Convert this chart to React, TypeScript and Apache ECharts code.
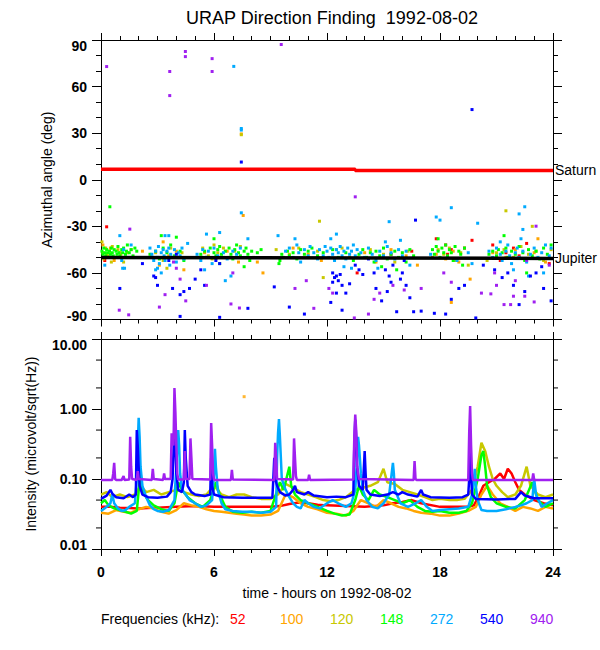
import React, { useEffect, useRef } from "react";
import * as echarts from "echarts";

const FREQS = ["52", "100", "120", "148", "272", "540", "940"];
const COLORS = ["#ff0000", "#ffa500", "#c8c800", "#00ff00", "#00aaff", "#0000ff", "#a020f0"];
const TITLE = "URAP Direction Finding  1992-08-02";
const X_NAME = "time - hours on 1992-08-02";
const Y_NAME_TOP = "Azimuthal angle (deg)";
const Y_NAME_BOTTOM = "Intensity (microvolt/sqrt(Hz))";
const LEGEND_LABEL = "Frequencies (kHz):";

const SATURN = [[0, 6.7], [13.5, 6.7], [13.5, 6.0], [24, 6.0]];
const JUPITER = [[0, -50], [24, -50.7]];
const LOG_MINOR = [0.02, 0.05, 0.2, 0.5, 2, 5];

// Azimuth (deg) vs time (h), one array per frequency
const AZ_52 = [[0.3,-30.3],[0.2,-52],[13.6,-60],[15.4,-48],[16.5,-46],[17.8,-38],[18.3,-42],[18.6,-45],[18.4,-48],[19.3,-44],[19.7,-39],[20.8,-42],[21.5,-47],[21.9,-44],[22.2,-49],[22.6,-41],[23.8,-54],[21.2,-52]];
const AZ_100 = [[0.1,-42],[0.3,-48],[0.5,-44],[0.7,-52],[1.0,-47],[1.3,-50],[1.6,-45],[2.2,-46],[3.1,-55],[3.6,-49],[4.0,-46],[4.4,-58],[3.3,-40],[5.5,-47],[6.1,-51],[6.7,-46],[7.3,-53],[7.45,29.5],[7.55,-23],[8.3,-53],[8.6,-60],[10.2,-44],[11.0,-48],[11.7,-52],[12.5,-45],[13.2,-50],[14.0,-47],[14.6,-53],[15.4,-45],[16.2,-49],[16.8,-55],[17.8,-48],[18.3,-51],[18.7,-46],[19.0,-53],[19.6,-64],[18.6,-79],[20.8,-47],[21.5,-50],[22.0,-45],[22.5,-51],[23.0,-47],[23.6,-53],[23.2,-38]];
const AZ_120 = [[0.05,-40],[0.1,-47],[0.15,-51],[0.25,-44],[0.35,-49],[0.45,-46],[0.6,-43],[0.75,-50],[0.9,-45],[1.05,-48],[1.2,-53],[1.4,-47],[1.7,-50],[0.55,-53],[2.9,-47],[3.3,-52],[3.7,-44],[4.1,-50],[4.3,-47],[3.5,-57],[5.4,-44],[5.7,-49],[6.0,-42],[6.2,-47],[6.5,-44],[6.8,-50],[7.1,-46],[7.4,-43],[7.45,29],[5.9,-51],[9.3,-45],[10.0,-48],[10.5,-44],[11.0,-50],[11.5,-46],[11.6,-26.7],[11.8,-63],[12.8,-44],[13.6,-50],[14.3,-45],[15.0,-48],[15.6,-53],[16.3,-46],[17.6,-50],[17.9,-45],[18.2,-48],[18.5,-44],[18.8,-52],[19.1,-47],[19.5,-55],[20.5,-52],[21.0,-47],[21.4,-45],[21.5,-20],[21.9,-50],[22.3,-43],[22.7,-48],[23.1,-46],[23.5,-52],[23.9,-45],[22.9,-30]];
const AZ_148 = [[0.05,-46],[0.1,-48],[0.15,-44],[0.2,-47],[0.25,-49],[0.3,-45],[0.35,-47],[0.4,-50],[0.45,-46],[0.5,-48],[0.55,-44],[0.6,-47],[0.65,-49],[0.7,-45],[0.8,-46],[0.85,-48],[0.9,-43],[0.95,-47],[1.0,-49],[1.1,-45],[1.15,-47],[1.2,-44],[1.3,-48],[1.35,-46],[1.4,-42],[1.5,-47],[1.6,-45],[1.7,-49],[1.8,-44],[1.9,-46],[0.47,-17.4],[2.6,-48],[2.9,-46],[3.1,-51],[3.3,-44],[3.5,-47],[3.7,-42],[3.9,-49],[4.2,-46],[4.4,-52],[3.2,-36],[4.0,-37],[5.3,-48],[5.5,-46],[5.6,-50],[5.8,-44],[6.0,-47],[6.1,-49],[6.2,-45],[6.3,-43],[6.4,-48],[6.5,-50],[6.6,-46],[6.8,-44],[6.9,-48],[7.0,-51],[7.1,-45],[7.2,-42],[7.3,-47],[7.4,-49],[7.6,-46],[7.7,-44],[7.8,-48],[7.9,-52],[8.0,-46],[8.1,-50],[8.3,-47],[8.5,-45],[6.3,-54],[7.6,-56],[6.0,-38],[9.5,-52],[9.6,-48],[9.7,-50],[9.9,-46],[10.0,-49],[10.2,-47],[10.4,-51],[10.6,-45],[10.8,-48],[11.0,-46],[11.2,-44],[11.5,-49],[11.8,-47],[9.45,-54],[12.3,-45],[12.6,-50],[13.0,-47],[13.4,-52],[13.7,-48],[13.9,-45],[14.1,-50],[14.3,-47],[14.5,-53],[14.6,-46],[14.8,-49],[15.0,-44],[15.2,-51],[15.4,-48],[15.6,-46],[15.8,-50],[16.0,-47],[16.2,-53],[16.4,-45],[16.6,-49],[14.9,-56],[15.7,-58],[17.6,-45],[17.7,-48],[17.8,-43],[17.9,-46],[18.0,-50],[18.1,-44],[18.2,-47],[18.3,-42],[18.4,-49],[18.5,-45],[18.6,-47],[18.8,-43],[18.9,-51],[19.0,-46],[19.1,-48],[19.3,-44],[17.9,-38],[18.7,-52],[19.2,-55],[20.6,-48],[20.8,-46],[21.0,-49],[21.1,-45],[21.3,-47],[21.5,-44],[21.6,-50],[21.8,-46],[22.0,-48],[22.2,-43],[22.4,-47],[22.5,-52],[22.7,-45],[22.9,-49],[23.1,-46],[23.3,-51],[23.5,-44],[23.7,-48],[23.9,-42],[21.4,-36],[22.6,-60]];
const AZ_272 = [[0.2,-55],[1.1,-52],[1.2,-45],[1.3,-50],[1.15,-57],[1.25,-57],[1.0,-36],[1.6,-42],[2.6,-44],[2.7,-48],[2.8,-52],[2.9,-46],[3.0,-50],[3.05,-43],[3.1,-54],[3.2,-47],[3.3,-45],[3.35,-49],[3.4,-52],[3.5,-46],[3.6,-44],[3.65,-55],[3.7,-48],[3.8,-50],[3.9,-45],[4.0,-53],[4.1,-47],[4.2,-49],[4.3,-44],[4.4,-51],[3.0,-57],[3.2,-60],[3.6,-36],[3.4,-36],[2.9,-58],[4.6,-41],[5.1,-48],[5.3,-52],[5.4,-45],[5.6,-50],[5.7,-46],[5.9,-54],[6.0,-44],[6.2,-49],[6.3,-34],[6.5,-47],[6.7,-51],[7.0,-46],[7.2,-48],[7.4,-44],[7.6,-50],[7.8,-38],[5.5,-58],[6.9,-62],[7.05,73],[7.45,33],[7.45,32],[7.45,-21.3],[5.6,-35],[6.6,-65],[9.4,-36],[9.8,-46],[10.0,-44],[10.2,-50],[10.4,-42],[10.5,-47],[10.6,-53],[10.8,-45],[11.0,-49],[11.1,-43],[11.3,-47],[11.5,-51],[11.6,-45],[11.8,-49],[11.9,-43],[10.3,-38],[12.0,-46],[12.1,-50],[12.2,-44],[12.3,-48],[12.4,-52],[12.5,-45],[12.6,-47],[12.7,-43],[12.8,-49],[12.9,-46],[13.0,-51],[13.1,-44],[13.2,-48],[13.3,-46],[13.4,-42],[13.5,-49],[13.6,-45],[13.8,-47],[14.0,-50],[14.2,-44],[14.4,-48],[14.6,-52],[14.8,-46],[15.0,-49],[15.2,-43],[15.4,-47],[15.6,-51],[15.8,-45],[16.0,-49],[16.2,-46],[12.2,-38],[12.5,-35],[12.9,-56],[13.3,-57],[14.7,-57],[15.3,-27],[15.1,-40],[15.9,-39],[16.4,-55],[17.8,-24],[18.0,-26],[18.6,-18],[17.5,-48],[18.9,-52],[19.5,-47],[19.7,-54],[20.0,-28],[20.6,-46],[20.8,-50],[21.0,-44],[21.2,-48],[21.3,-52],[21.5,-46],[21.6,-42],[21.7,-49],[21.8,-54],[22.0,-47],[22.1,-44],[22.2,-50],[22.3,-38],[22.4,-46],[22.5,-17.4],[22.2,-22],[22.6,-53],[22.8,-48],[23.0,-44],[23.2,-50],[23.4,-47],[23.6,-42],[23.8,-49],[23.9,-44],[22.4,-32],[21.9,-58],[22.7,-62],[23.5,-60],[21.2,-40]];
const AZ_540 = [[1.0,-70],[2.2,-54],[2.8,-62],[2.9,-63],[3.0,-68],[3.6,-52],[3.8,-70],[4.2,-74],[4.4,-72],[4.7,-70],[5.0,-64],[5.3,-58],[5.5,-68],[6.1,-52],[6.3,-54],[4.0,-48],[4.2,-88],[6.3,-88.6],[7.8,-82.8],[7.45,11.4],[9.2,-69],[10.0,-82],[10.8,-86.5],[12.3,-60],[12.4,-63],[12.5,-62],[12.6,-65],[12.7,-61],[12.8,-68],[12.3,-66],[12.5,-73],[12.2,-79],[13.0,-73],[12.8,-84],[13.2,-67],[13.5,-55],[13.7,-58],[14.2,-51],[14.5,-60],[14.6,-70],[14.9,-78],[15.2,-72],[15.1,-58],[15.3,-62],[15.5,-55],[15.4,-66],[15.7,-85],[15.9,-64],[16.0,-60],[16.2,-68],[16.1,-52],[16.4,-76],[16.6,-85],[16.7,-26],[17.0,-84.6],[17.7,-86],[18.3,-86.5],[18.6,-77],[19.0,-70],[19.7,45.2],[19.9,-89],[19.3,-68],[20.3,-55],[20.9,-58],[21.3,-63],[21.6,-60],[21.9,-68],[22.2,-80.4],[22.5,-72],[22.8,-62],[23.1,-60],[23.5,-70],[23.9,-78],[23.4,-56],[13.9,-61]];
const AZ_940 = [[0.3,72.9],[3.65,69.7],[3.65,54.2],[4.48,82.6],[4.48,79.3],[5.9,78],[5.9,69.7],[9.57,87.1],[13.5,-11],[1.53,-31.8],[0.97,-84],[1.47,-87],[3.1,-82],[3.9,-50],[3.85,-53],[4.1,-50],[4.0,-57],[4.2,-64],[3.4,-74],[6.9,-80],[7.35,-82.6],[7.0,-60],[5.6,-68],[4.5,-78],[11.3,-82.8],[10.3,-70],[10.9,-65],[12.1,-70],[12.3,-73],[13.45,-89],[14.2,-86.5],[14.5,-77],[14.8,-73],[15.5,-68],[16.1,-71],[17.0,-70],[18.2,-60],[18.6,-66],[20.2,-73],[20.7,-73.5],[21.4,-80.4],[21.75,-80.4],[22.5,-75],[23.0,-78.7],[22.0,-65],[21.0,-68],[23.1,-29.9],[22.6,-52],[23.8,-55],[21.9,-75],[20.9,-60]];

// Intensity (microvolt/sqrt(Hz)) vs time (h)
const INT_52 = [[0,0.04],[0.5,0.04],[1.0,0.039],[2.0,0.038],[3.0,0.039],[4.0,0.04],[5.0,0.041],[6.0,0.04],[7.0,0.04],[8.0,0.04],[9.0,0.04],[9.5,0.041],[10.0,0.044],[10.5,0.046],[11.0,0.045],[11.5,0.043],[12.0,0.042],[13.0,0.041],[14.0,0.04],[15.0,0.042],[15.5,0.045],[16.0,0.047],[16.5,0.05],[17.0,0.045],[18.0,0.04],[19.0,0.04],[19.5,0.04],[19.8,0.042],[20.1,0.06],[20.3,0.08],[20.6,0.09],[20.9,0.1],[21.2,0.12],[21.4,0.1],[21.6,0.14],[21.8,0.12],[22.0,0.09],[22.2,0.07],[22.5,0.06],[23.0,0.05],[23.5,0.045],[24,0.042]];
const INT_100 = [[0,0.033],[0.4,0.032],[0.8,0.036],[1.2,0.034],[1.6,0.033],[2.0,0.037],[2.4,0.04],[2.8,0.038],[3.2,0.034],[3.6,0.032],[4.0,0.036],[4.4,0.045],[4.8,0.042],[5.2,0.04],[5.6,0.037],[6.0,0.035],[6.4,0.034],[6.8,0.033],[7.2,0.032],[7.6,0.031],[8.0,0.03],[8.5,0.03],[9.0,0.031],[9.4,0.035],[9.8,0.06],[10.2,0.055],[10.6,0.045],[11.0,0.04],[11.5,0.037],[12.0,0.033],[12.5,0.032],[13.0,0.03],[13.4,0.035],[13.8,0.05],[14.2,0.045],[14.6,0.04],[15.0,0.05],[15.4,0.045],[15.8,0.04],[16.2,0.038],[16.6,0.035],[17.0,0.033],[17.5,0.032],[18.0,0.03],[18.5,0.03],[19.0,0.032],[19.5,0.035],[19.9,0.04],[20.2,0.06],[20.5,0.08],[20.8,0.06],[21.2,0.045],[21.6,0.04],[22.0,0.035],[22.4,0.04],[22.8,0.038],[23.2,0.035],[23.6,0.04],[24,0.038]];
const INT_100_ISOLATED = [[7.6, 1.5]];
const INT_120 = [[0,0.06],[0.3,0.065],[0.6,0.055],[1.0,0.06],[1.4,0.055],[1.8,0.06],[2.1,0.08],[2.4,0.065],[2.8,0.07],[3.2,0.06],[3.6,0.065],[4.0,0.07],[4.4,0.065],[4.8,0.06],[5.2,0.057],[5.6,0.06],[6.0,0.08],[6.4,0.06],[6.8,0.055],[7.2,0.06],[7.6,0.06],[8.0,0.055],[8.5,0.052],[9.0,0.052],[9.4,0.06],[9.8,0.085],[10.2,0.075],[10.6,0.065],[11.0,0.06],[11.4,0.055],[11.8,0.05],[12.2,0.048],[12.6,0.05],[13.0,0.055],[13.5,0.07],[13.9,0.075],[14.3,0.08],[14.7,0.09],[15.0,0.14],[15.2,0.09],[15.6,0.085],[16.0,0.07],[16.4,0.065],[16.8,0.06],[17.2,0.055],[17.6,0.05],[18.0,0.052],[18.5,0.05],[18.9,0.05],[19.3,0.052],[19.7,0.07],[20.0,0.15],[20.2,0.33],[20.4,0.25],[20.6,0.15],[20.8,0.1],[21.0,0.08],[21.3,0.065],[21.6,0.055],[22.0,0.06],[22.3,0.08],[22.6,0.15],[22.8,0.08],[23.2,0.06],[23.6,0.055],[24,0.06]];
const INT_148 = [[0,0.045],[0.2,0.05],[0.4,0.042],[0.7,0.038],[1.0,0.036],[1.3,0.034],[1.6,0.032],[1.9,0.035],[2.1,0.13],[2.15,0.08],[2.3,0.06],[2.5,0.05],[2.8,0.042],[3.2,0.037],[3.6,0.035],[3.9,0.045],[4.1,0.09],[4.3,0.07],[4.6,0.055],[5.0,0.045],[5.4,0.04],[5.8,0.05],[6.1,0.09],[6.3,0.06],[6.6,0.04],[7.0,0.034],[7.5,0.033],[8.0,0.034],[8.5,0.033],[9.0,0.035],[9.5,0.09],[9.7,0.07],[10.0,0.15],[10.1,0.08],[10.3,0.06],[10.6,0.05],[11.0,0.045],[11.5,0.04],[12.0,0.035],[12.4,0.032],[12.8,0.03],[13.2,0.031],[13.5,0.05],[13.7,0.08],[13.9,0.06],[14.2,0.05],[14.5,0.07],[14.8,0.06],[15.2,0.055],[15.6,0.05],[16.0,0.045],[16.4,0.05],[16.8,0.04],[17.2,0.035],[17.6,0.034],[18.0,0.035],[18.5,0.033],[19.0,0.033],[19.4,0.035],[19.7,0.045],[20.0,0.1],[20.2,0.22],[20.3,0.25],[20.4,0.15],[20.5,0.08],[20.7,0.055],[21.0,0.045],[21.5,0.04],[22.0,0.038],[22.5,0.05],[22.9,0.09],[23.2,0.05],[23.6,0.04],[24,0.045]];
const INT_272 = [[0,0.035],[0.3,0.04],[0.5,0.045],[0.6,0.06],[0.7,0.045],[0.9,0.038],[1.1,0.035],[1.3,0.036],[1.5,0.04],[1.8,0.045],[1.9,0.1],[1.95,0.3],[2.0,0.75],[2.05,0.4],[2.1,0.15],[2.2,0.08],[2.4,0.055],[2.6,0.042],[2.8,0.037],[3.0,0.035],[3.3,0.034],[3.6,0.036],[3.9,0.05],[4.0,0.15],[4.05,0.3],[4.1,0.5],[4.15,0.3],[4.2,0.12],[4.3,0.07],[4.5,0.06],[4.7,0.05],[5.0,0.045],[5.3,0.04],[5.6,0.042],[5.9,0.05],[6.0,0.12],[6.05,0.27],[6.1,0.15],[6.2,0.07],[6.4,0.045],[6.6,0.037],[7.0,0.035],[7.5,0.034],[8.0,0.034],[8.5,0.033],[9.0,0.034],[9.3,0.04],[9.35,0.2],[9.4,0.45],[9.45,0.72],[9.5,0.4],[9.55,0.2],[9.6,0.1],[9.8,0.07],[10.0,0.055],[10.2,0.045],[10.4,0.04],[10.6,0.038],[10.8,0.05],[11.0,0.045],[11.3,0.04],[11.6,0.038],[12.0,0.045],[12.3,0.05],[12.6,0.045],[13.0,0.04],[13.3,0.045],[13.5,0.07],[13.6,0.2],[13.65,0.4],[13.7,0.3],[13.8,0.12],[13.9,0.07],[14.1,0.05],[14.4,0.04],[14.7,0.038],[15.0,0.045],[15.3,0.06],[15.4,0.1],[15.5,0.17],[15.55,0.12],[15.6,0.07],[15.9,0.045],[16.3,0.04],[16.7,0.045],[17.0,0.05],[17.3,0.04],[17.6,0.035],[18.0,0.036],[18.5,0.037],[19.0,0.038],[19.5,0.04],[19.7,0.06],[19.8,0.1],[19.85,0.14],[19.9,0.08],[20.0,0.05],[20.2,0.036],[20.5,0.035],[21.0,0.035],[21.5,0.037],[22.0,0.04],[22.3,0.042],[22.6,0.045],[22.9,0.05],[23.0,0.1],[23.1,0.06],[23.4,0.04],[23.7,0.045],[24,0.05]];
const INT_540 = [[0,0.052],[0.3,0.058],[0.5,0.07],[0.6,0.062],[0.8,0.055],[1.2,0.053],[1.5,0.06],[1.7,0.055],[1.85,0.06],[1.9,0.5],[1.95,0.3],[2.0,0.15],[2.05,0.08],[2.2,0.06],[2.5,0.055],[3.0,0.054],[3.5,0.056],[3.7,0.065],[3.8,0.1],[3.85,0.25],[3.9,0.6],[3.95,0.35],[4.0,0.12],[4.1,0.07],[4.3,0.065],[4.4,0.09],[4.45,0.5],[4.5,0.2],[4.6,0.08],[4.8,0.065],[5.0,0.06],[5.5,0.057],[5.8,0.06],[5.85,0.2],[5.9,0.08],[6.0,0.06],[6.5,0.055],[7.5,0.054],[9.1,0.054],[9.15,0.1],[9.2,0.2],[9.25,0.1],[9.35,0.08],[9.5,0.065],[9.8,0.058],[10.0,0.06],[10.2,0.07],[10.3,0.08],[10.4,0.065],[10.8,0.06],[11.0,0.065],[11.3,0.058],[12.0,0.055],[12.5,0.056],[13.0,0.055],[13.4,0.06],[13.45,0.3],[13.5,0.7],[13.55,0.4],[13.6,0.15],[13.7,0.08],[13.9,0.07],[14.0,0.25],[14.05,0.12],[14.1,0.07],[14.3,0.06],[14.8,0.057],[15.2,0.06],[15.5,0.065],[15.8,0.06],[16.0,0.065],[16.3,0.06],[16.8,0.056],[17.0,0.07],[17.1,0.06],[17.5,0.055],[18.5,0.054],[19.2,0.055],[19.5,0.06],[19.55,0.1],[19.6,0.25],[19.65,0.12],[19.7,0.06],[19.9,0.052],[21.0,0.051],[22.0,0.052],[22.3,0.065],[22.5,0.058],[23.0,0.053],[24,0.053]];
const INT_940 = [[0,0.097],[0.6,0.097],[0.65,0.12],[0.7,0.17],[0.75,0.1],[0.8,0.097],[1.1,0.097],[1.2,0.11],[1.25,0.097],[1.5,0.098],[1.55,0.4],[1.6,0.15],[1.65,0.1],[1.9,0.097],[1.95,0.13],[2.0,0.1],[2.7,0.097],[2.75,0.14],[2.8,0.1],[3.3,0.097],[3.35,0.12],[3.4,0.1],[3.7,0.1],[3.75,0.45],[3.85,0.3],[3.9,2.0],[3.95,0.9],[4.0,0.3],[4.05,0.12],[4.1,0.098],[4.4,0.098],[4.45,0.25],[4.5,0.1],[4.7,0.1],[4.75,0.38],[4.8,0.2],[4.85,0.1],[5.8,0.098],[5.85,0.63],[5.9,0.3],[5.95,0.12],[6.0,0.097],[6.9,0.097],[6.95,0.135],[7.0,0.098],[9.2,0.097],[9.25,0.33],[9.3,0.2],[9.35,0.1],[10.2,0.098],[10.25,0.38],[10.3,0.2],[10.35,0.11],[10.4,0.097],[11.0,0.097],[11.05,0.115],[11.1,0.097],[13.4,0.098],[13.45,0.4],[13.5,0.83],[13.55,0.5],[13.6,0.15],[13.7,0.1],[16.6,0.097],[16.65,0.18],[16.7,0.1],[16.75,0.097],[19.5,0.097],[19.55,0.45],[19.6,1.1],[19.65,0.3],[19.7,0.12],[19.75,0.097],[22.9,0.097],[22.95,0.12],[23.0,0.097],[24,0.097]];

const AZ_DATA = [AZ_52, AZ_100, AZ_120, AZ_148, AZ_272, AZ_540, AZ_940];
const INT_DATA = [INT_52, INT_100, INT_120, INT_148, INT_272, INT_540, INT_940];

const FONT = "'Liberation Sans', Arial, Helvetica, sans-serif";

function xAxisDef(gridIndex: number, position: string, showLabel: boolean, name?: string) {
  return {
    type: "value",
    gridIndex,
    position,
    min: 0,
    max: 24,
    interval: 6,
    name: name || "",
    nameLocation: "middle",
    nameGap: 37,
    nameTextStyle: { color: "#000", fontSize: 14, fontFamily: FONT },
    axisLine: { show: true, onZero: false, lineStyle: { color: "#000", width: 1 } },
    axisTick: { show: true, inside: false, length: 7, lineStyle: { color: "#000", width: 1 } },
    minorTick: { show: true, splitNumber: 6, length: 4, lineStyle: { color: "#000", width: 1 } },
    splitLine: { show: false },
    minorSplitLine: { show: false },
    axisLabel: { show: showLabel, color: "#000", fontSize: 14, fontWeight: "bold", fontFamily: FONT, margin: 16 },
  };
}

export default function App() {
  const ref = useRef<HTMLDivElement>(null);

  useEffect(() => {
    if (!ref.current) return;
    const chart = echarts.init(ref.current, null, { renderer: "svg" });

    const topScatter = AZ_DATA.map((d, i) => ({
      type: "scatter",
      name: FREQS[i],
      xAxisIndex: 0,
      yAxisIndex: 0,
      data: d,
      symbol: "rect",
      symbolSize: [3, 3],
      itemStyle: { color: COLORS[i], opacity: 1 },
      z: 2,
    }));

    const bottomLines = INT_DATA.map((d, i) => ({
      type: "line",
      name: FREQS[i] + "-int",
      xAxisIndex: 2,
      yAxisIndex: 2,
      data: d,
      symbol: "none",
      showSymbol: false,
      lineStyle: { color: COLORS[i], width: 2.5 },
      z: 2 + i * 0.01,
    }));

    const richTop = { padding: [12, 0, 0, 0], fontSize: 14, fontWeight: "bold", color: "#000", fontFamily: FONT };
    const richBottom = { padding: [0, 0, 8, 0], fontSize: 14, fontWeight: "bold", color: "#000", fontFamily: FONT };

    const option: any = {
      animation: false,
      backgroundColor: "#fff",
      textStyle: { fontFamily: FONT },
      title: {
        text: TITLE,
        left: 327,
        top: 4,
        textAlign: "center",
        textStyle: { fontSize: 18, fontWeight: "normal", color: "#000", fontFamily: FONT },
      },
      grid: [
        { left: 101, right: 47, top: 40, height: 279.5, containLabel: false, outerBoundsMode: "none" },
        { left: 101, right: 47, top: 339, height: 210, containLabel: false, outerBoundsMode: "none" },
      ],
      xAxis: [
        xAxisDef(0, "bottom", false),
        xAxisDef(0, "top", false),
        xAxisDef(1, "bottom", true, X_NAME),
        xAxisDef(1, "top", false),
      ],
      yAxis: [
        {
          type: "value",
          gridIndex: 0,
          position: "left",
          min: -90,
          max: 90,
          interval: 30,
          name: Y_NAME_TOP,
          nameLocation: "middle",
          nameGap: 47,
          nameTextStyle: { color: "#000", fontSize: 14, fontFamily: FONT },
          axisLine: { show: true, onZero: false, lineStyle: { color: "#000", width: 1 } },
          axisTick: { show: true, inside: false, length: 9, lineStyle: { color: "#000" } },
          minorTick: { show: true, splitNumber: 3, length: 5, lineStyle: { color: "#000" } },
          splitLine: { show: false },
          axisLabel: {
            color: "#000",
            fontSize: 14,
            fontWeight: "bold",
            fontFamily: FONT,
            margin: 14,
            formatter: (v: number) => (v === 90 ? "{a|90}" : v === -90 ? "{b|-90}" : String(v)),
            rich: { a: richTop, b: richBottom },
          },
        },
        {
          type: "value",
          gridIndex: 0,
          position: "right",
          min: -90,
          max: 90,
          interval: 30,
          axisLine: { show: true, onZero: false, lineStyle: { color: "#000", width: 1 } },
          axisTick: { show: true, inside: false, length: 9, lineStyle: { color: "#000" } },
          minorTick: { show: true, splitNumber: 3, length: 5, lineStyle: { color: "#000" } },
          splitLine: { show: false },
          axisLabel: { show: false },
        },
        {
          type: "log",
          logBase: 10,
          gridIndex: 1,
          position: "left",
          min: 0.01,
          max: 10,
          name: Y_NAME_BOTTOM,
          nameLocation: "middle",
          nameGap: 63,
          nameTextStyle: { color: "#000", fontSize: 14, fontFamily: FONT },
          axisLine: { show: true, onZero: false, lineStyle: { color: "#000", width: 1 } },
          axisTick: { show: true, inside: false, length: 9, lineStyle: { color: "#000" } },
          minorTick: { show: false },
          splitLine: { show: false },
          axisLabel: {
            color: "#000",
            fontSize: 14,
            fontWeight: "bold",
            fontFamily: FONT,
            margin: 14,
            formatter: (v: number) => {
              const s = Number(v).toFixed(2);
              if (Math.abs(v - 10) < 1e-6) return "{a|" + s + "}";
              if (Math.abs(v - 0.01) < 1e-9) return "{b|" + s + "}";
              return s;
            },
            rich: { a: richTop, b: richBottom },
          },
        },
        {
          type: "log",
          logBase: 10,
          gridIndex: 1,
          position: "right",
          min: 0.01,
          max: 10,
          axisLine: { show: true, onZero: false, lineStyle: { color: "#000", width: 1 } },
          axisTick: { show: true, inside: false, length: 9, lineStyle: { color: "#000" } },
          minorTick: { show: false },
          splitLine: { show: false },
          axisLabel: { show: false },
        },
      ],
      series: [
        ...topScatter,
        {
          type: "line",
          name: "Saturn",
          xAxisIndex: 0,
          yAxisIndex: 0,
          data: SATURN,
          symbol: "none",
          lineStyle: { color: "#ff0000", width: 3.5 },
          z: 5,
          endLabel: { show: true, formatter: "Saturn", color: "#000", fontSize: 14, fontFamily: FONT, distance: 2 },
        },
        {
          type: "line",
          name: "Jupiter",
          xAxisIndex: 0,
          yAxisIndex: 0,
          data: JUPITER,
          symbol: "none",
          lineStyle: { color: "#000", width: 3.5 },
          z: 5,
          endLabel: { show: true, formatter: "Jupiter", color: "#000", fontSize: 14, fontFamily: FONT, distance: 2 },
        },
        ...bottomLines,
        {
          type: "scatter",
          name: "100-isolated",
          xAxisIndex: 2,
          yAxisIndex: 2,
          data: INT_100_ISOLATED,
          symbol: "rect",
          symbolSize: [3, 3],
          itemStyle: { color: COLORS[1] },
        },
        {
          type: "custom",
          name: "log-minor-ticks",
          xAxisIndex: 2,
          yAxisIndex: 2,
          clip: false,
          silent: true,
          data: LOG_MINOR.map((v) => [0, v]),
          encode: { x: 0, y: 1 },
          renderItem: (params: any, api: any) => {
            const v = api.value(1);
            const pL = api.coord([0, v]);
            const pR = api.coord([24, v]);
            return {
              type: "group",
              children: [
                { type: "line", shape: { x1: pL[0] - 5, y1: pL[1], x2: pL[0], y2: pL[1] }, style: { stroke: "#000", lineWidth: 1 } },
                { type: "line", shape: { x1: pR[0], y1: pR[1], x2: pR[0] + 5, y2: pR[1] }, style: { stroke: "#000", lineWidth: 1 } },
              ],
            };
          },
        },
      ],
      graphic: [
        {
          type: "text",
          left: 101,
          top: 612,
          style: { text: LEGEND_LABEL, fill: "#000", fontSize: 14, fontFamily: FONT },
        },
        ...FREQS.map((f, i) => ({
          type: "text",
          left: 230 + i * 50,
          top: 612,
          style: { text: f, fill: COLORS[i], fontSize: 14, fontFamily: FONT },
        })),
      ],
    };

    chart.setOption(option);
    return () => chart.dispose();
  }, []);

  return (
    <div
      ref={ref}
      style={{ position: "fixed", left: 0, top: 0, width: 600, height: 650, background: "#fff" }}
    />
  );
}
